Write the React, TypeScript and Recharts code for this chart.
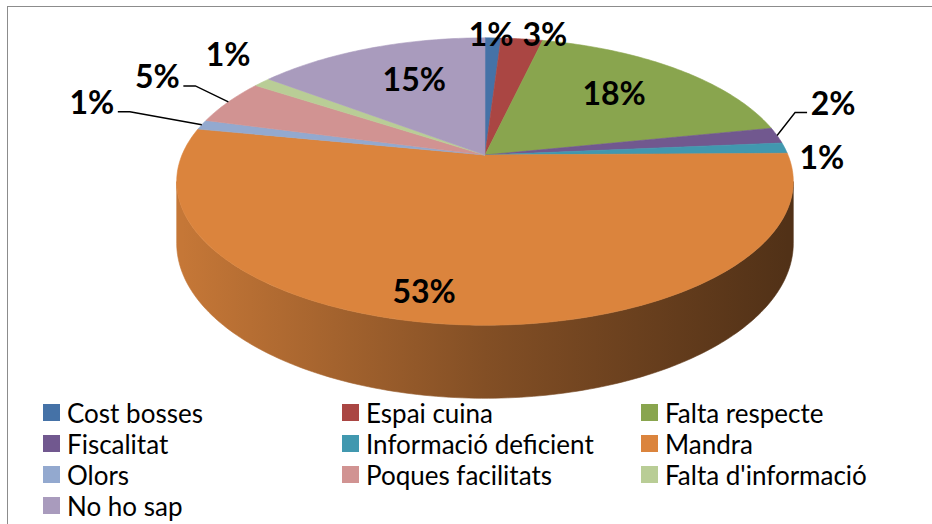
import React from 'react';
import { PieChart, Pie, Cell, Legend } from 'recharts';

// shares (labels round them)
const categories = [
  'Cost bosses',
  'Espai cuina',
  'Falta respecte',
  'Fiscalitat',
  'Informació deficient',
  'Mandra',
  'Olors',
  'Poques facilitats',
  "Falta d'informació",
  'No ho sap',
];
const shares = [1.0, 2.6, 18.2, 1.8, 1.2, 53.3, 1.1, 5.1, 1.1, 14.6];

const COLORS = [
  '#4572A7', // blue
  '#AA4643', // red
  '#89A54E', // green
  '#71588F', // purple
  '#4198AF', // teal
  '#DB843D', // orange
  '#93A9CF', // light blue
  '#D19392', // pink
  '#B9CD96', // light green
  '#A99BBD', // lavender
];

const data = categories.map((name, i) => ({ name, value: shares[i] }));

// fake 3D: tilted disc with a bit of perspective
const TILT = 0.458;
const PERSP = 0.1847;
const DEPTH = 0.1966;
const SIDE_FROM = 90 + (Math.asin(PERSP) * 180) / Math.PI;
const SIDE_TO = 360 - SIDE_FROM;

function project(cx: number, cy: number, R: number, theta: number, r = 1, drop = 0) {
  const t = (theta * Math.PI) / 180;
  const u = r * Math.sin(t);
  const v = -r * Math.cos(t);
  const w = 1 - PERSP * v;
  return [cx + (R * u) / w, cy + (R * TILT * v + R * DEPTH * drop) / w];
}

function arcPoints(cx: number, cy: number, R: number, from: number, to: number, drop: number) {
  const steps = Math.max(2, Math.ceil(Math.abs(to - from)));
  const pts: number[][] = [];
  for (let i = 0; i <= steps; i++) {
    pts.push(project(cx, cy, R, from + ((to - from) * i) / steps, 1, drop));
  }
  return pts;
}

function shade(hex: string, f: number) {
  const n = parseInt(hex.slice(1), 16);
  const r = Math.round(((n >> 16) & 255) * f);
  const g = Math.round(((n >> 8) & 255) * f);
  const b = Math.round((n & 255) * f);
  return `rgb(${r},${g},${b})`;
}

const Slice3D = (props: any) => {
  const { cx, cy, outerRadius, startAngle, endAngle, fill, index } = props;
  let a = 90 - startAngle;
  let b = 90 - endAngle;
  if (a > b) [a, b] = [b, a];
  const top = arcPoints(cx, cy, outerRadius, a, b, 0);
  const topPath =
    `M${cx},${cy} ` + top.map((p) => `L${p[0].toFixed(2)},${p[1].toFixed(2)}`).join(' ') + ' Z';

  const lo = Math.max(a, SIDE_FROM);
  const hi = Math.min(b, SIDE_TO);
  let side = null;
  if (lo < hi) {
    const upper = arcPoints(cx, cy, outerRadius, lo, hi, 0);
    const lower = arcPoints(cx, cy, outerRadius, hi, lo, 1);
    const d =
      [...upper, ...lower].map((p, i) => `${i ? 'L' : 'M'}${p[0].toFixed(2)},${p[1].toFixed(2)}`).join(' ') + ' Z';
    const gid = `side-${index}`;
    side = (
      <>
        <defs>
          <linearGradient id={gid} gradientUnits="userSpaceOnUse" x1={cx - outerRadius} y1={0} x2={cx + outerRadius} y2={0}>
            <stop offset="0%" stopColor={shade(fill, 0.9)} />
            <stop offset="50%" stopColor={shade(fill, 0.6)} />
            <stop offset="100%" stopColor={shade(fill, 0.37)} />
          </linearGradient>
        </defs>
        <path d={d} fill={`url(#${gid})`} stroke={`url(#${gid})`} strokeWidth={0.6} />
      </>
    );
  }
  return (
    <g>
      {side}
      <path d={topPath} fill={fill} stroke={fill} strokeWidth={0.6} />
    </g>
  );
};

// where each percentage sits: radius on the disc plus a nudge
const LABEL_LAYOUT: { r: number; dx: number; dy: number; leader?: 'left' | 'right' }[] = [
  { r: 1, dx: -2, dy: -4 },
  { r: 1, dx: 23, dy: -5 },
  { r: 0.65, dx: -1, dy: -4 },
  { r: 1, dx: 56, dy: -33, leader: 'right' },
  { r: 1, dx: 37, dy: 8 },
  { r: 0.8, dx: -35, dy: 6 },
  { r: 1, dx: -110, dy: -23, leader: 'left' },
  { r: 1, dx: -71, dy: -26, leader: 'left' },
  { r: 1, dx: -34, dy: -29 },
  { r: 0.65, dx: 8, dy: -3 },
];

const renderLabel = (props: any) => {
  const { cx, cy, outerRadius, midAngle, index, percent } = props;
  const lay = LABEL_LAYOUT[index];
  const theta = 90 - midAngle;
  const [ax, ay] = project(cx, cy, outerRadius, theta, lay.r);
  const lx = ax + lay.dx;
  const ly = ay + lay.dy;
  let line = null;
  if (lay.leader) {
    const s = lay.leader === 'right' ? -1 : 1;
    const [ex, ey] = project(cx, cy, outerRadius, theta, 1);
    const pts = `${ex},${ey} ${lx + s * 38},${ly + 10} ${lx + s * 26},${ly + 10}`;
    line = <polyline points={pts} fill="none" stroke="#000" strokeWidth={1.4} />;
  }
  return (
    <g key={`lbl-${index}`}>
      {line}
      <text
        x={lx}
        y={ly}
        textAnchor="middle"
        dominantBaseline="central"
        fontFamily="Lato, sans-serif"
        fontWeight={700}
        fontSize={32}
        fill="#000"
      >
        {`${Math.round(percent * 100)}%`}
      </text>
    </g>
  );
};

// keep the legend in data order, three per row
const renderLegend = ({ payload }: any) => {
  const items = [...(payload || [])].sort(
    (p: any, q: any) => categories.indexOf(p.value) - categories.indexOf(q.value)
  );
  return (
    <div
      style={{
        display: 'grid',
        gridTemplateColumns: 'repeat(3, 299px)',
        fontFamily: 'Lato, sans-serif',
        fontSize: 26,
        color: '#000',
      }}
    >
      {items.map((entry: any) => (
        <div key={entry.value} style={{ display: 'flex', alignItems: 'center', height: 31 }}>
          <span style={{ width: 17, height: 17, background: entry.color, marginRight: 7, flex: 'none' }} />
          <span>{entry.value}</span>
        </div>
      ))}
    </div>
  );
};

export default function App() {
  return (
    <div style={{ position: 'absolute', left: 0, top: 0, width: 932, height: 524, background: '#fff', overflow: 'hidden' }}>
      <div
        style={{
          position: 'absolute',
          left: 7,
          top: 6,
          width: 940,
          height: 540,
          borderLeft: '1.5px solid #8c8c8c',
          borderTop: '1.5px solid #8c8c8c',
        }}
      />
      <PieChart width={932} height={524} margin={{ top: 0, right: 0, bottom: 0, left: 0 }}>
        <Pie
          data={data}
          dataKey="value"
          nameKey="name"
          cx={485}
          cy={155}
          outerRadius={303}
          startAngle={90}
          endAngle={-270}
          stroke="none"
          shape={Slice3D}
          label={renderLabel}
          labelLine={false}
          isAnimationActive={false}
        >
          {data.map((_, i) => (
            <Cell key={`cell-${i}`} fill={COLORS[i]} />
          ))}
        </Pie>
        <Legend
          content={renderLegend}
          verticalAlign="bottom"
          wrapperStyle={{ position: 'absolute', left: 43, top: 397, width: 900 }}
        />
      </PieChart>
    </div>
  );
}
